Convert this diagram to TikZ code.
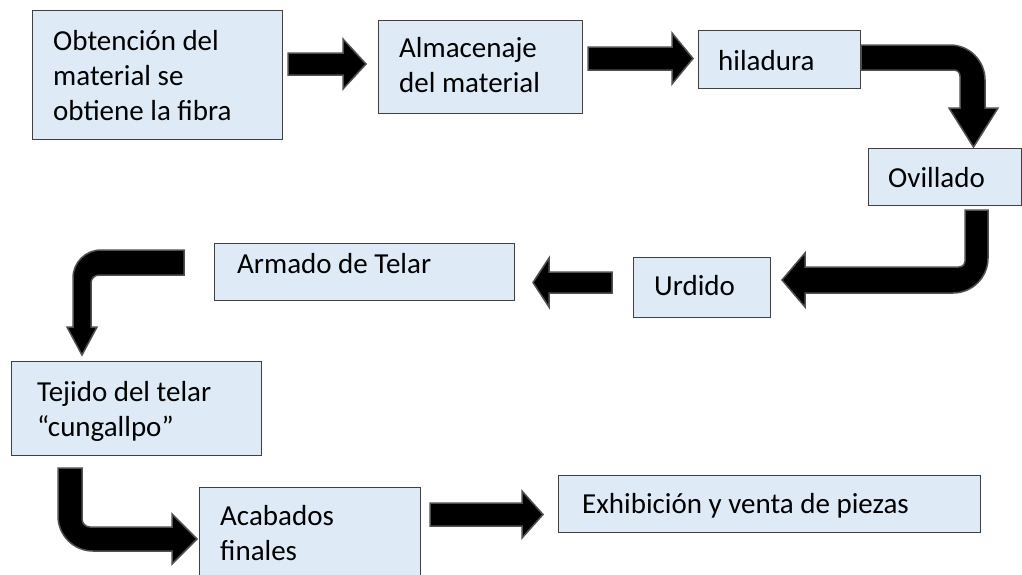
\documentclass[tikz,border=0pt]{standalone}
\usepackage{fontspec}
\setmainfont{Carlito}
\definecolor{boxfill}{HTML}{DEEBF7}
\definecolor{boxline}{HTML}{404040}
\definecolor{arrowline}{HTML}{505050}
\begin{document}
\begin{tikzpicture}[x=1pt,y=-1pt,
  box/.style={draw=boxline, fill=boxfill, line width=1.3pt, inner sep=0pt, anchor=north west},
  lbl/.style={anchor=base west, inner sep=0pt, font=\fontsize{29}{35}\selectfont, text=black},
  blk/.style={fill=black, draw=arrowline, line width=1.5pt, line join=miter}]
\useasboundingbox (0,0) rectangle (1022,574);
\clip (0,0) rectangle (1022,574);

% boxes
\node[box, minimum width=250pt, minimum height=129pt] (b1) at (32,10) {};
\node[box, minimum width=204pt, minimum height=93pt]  (b2) at (378,20) {};
\node[box, minimum width=162pt, minimum height=58pt]  (b3) at (698,30) {};
\node[box, minimum width=153pt, minimum height=57pt]  (b4) at (868,148) {};
\node[box, minimum width=137pt, minimum height=60pt]  (b5) at (633,257) {};
\node[box, minimum width=300pt, minimum height=57pt]  (b6) at (214,243) {};
\node[box, minimum width=250pt, minimum height=94pt]  (b7) at (11,361) {};
\node[box, minimum width=221pt, minimum height=110pt] (b8) at (199,487) {};
\node[box, minimum width=422pt, minimum height=57pt]  (b9) at (558,475) {};

% texts
\node[lbl] (t1) at (53,50) {\vtop{\hbox{Obtención del}\hbox{material se}\hbox{obtiene la fibra}}};
\node[lbl] (t2) at (399,57) {\vtop{\hbox{Almacenaje}\hbox{del material}}};
\node[lbl] (t3) at (718,70) {hiladura};
\node[lbl] (t4) at (888,187) {Ovillado};
\node[lbl] (t5) at (654,295) {Urdido};
\node[lbl] (t6) at (237,273) {Armado de Telar};
\node[lbl] (t7) at (37,401) {\vtop{\hbox{Tejido del telar}\hbox{“cungallpo”}}};
\node[lbl] (t8) at (220,525) {\vtop{\hbox{Acabados}\hbox{finales}}};
\node[lbl] (t9) at (582,513) {Exhibición y venta de piezas};

% block arrows
% b1 -> b2
\path[blk] (288,53) -- (343,53) -- (343,39) -- (366,64) -- (343,89) -- (343,75) -- (288,75) -- cycle;
% b2 -> b3
\path[blk] (588,47) -- (672,47) -- (672,33) -- (693,58.5) -- (672,84) -- (672,70) -- (588,70) -- cycle;
% b3 -> b4
\path[blk] (861,45) -- (950,45) .. controls (969.3,45) and (985,60.7) .. (985,80)
  -- (985,108) -- (998,108) -- (973.5,147) -- (949,108) -- (960,108) -- (960,76)
  .. controls (960,72.7) and (957.3,70) .. (954,70) -- (861,70) -- cycle;
% b4 -> b5
\path[blk] (965,210) -- (988,210) -- (988,258) .. controls (988,277.3) and (972.3,293) .. (953,293)
  -- (805,293) -- (805,307) -- (782,280) -- (805,253) -- (805,267) -- (959,267)
  .. controls (962.3,267) and (965,264.3) .. (965,261) -- cycle;
% b5 -> b6
\path[blk] (612,272) -- (549,272) -- (549,258) -- (533,282.5) -- (549,307) -- (549,293) -- (612,293) -- cycle;
% b6 -> b7
\path[blk] (184,250) -- (101,250) .. controls (85.5,250) and (73,262.5) .. (73,278)
  -- (73,327) -- (67,327) -- (82,355) -- (97,327) -- (91,327) -- (91,283)
  .. controls (91,278.6) and (94.6,275) .. (99,275) -- (184,275) -- cycle;
% b7 -> b8
\path[blk] (58,468) -- (82,468) -- (82,519) .. controls (82,523.4) and (85.6,527) .. (90,527)
  -- (172,527) -- (172,514) -- (197,539) -- (172,564) -- (172,551) -- (93,551)
  .. controls (73.7,551) and (58,535.3) .. (58,516) -- cycle;
% b8 -> b9
\path[blk] (430,503) -- (522,503) -- (522,491) -- (543,514.5) -- (522,538) -- (522,526) -- (430,526) -- cycle;
\end{tikzpicture}
\end{document}
